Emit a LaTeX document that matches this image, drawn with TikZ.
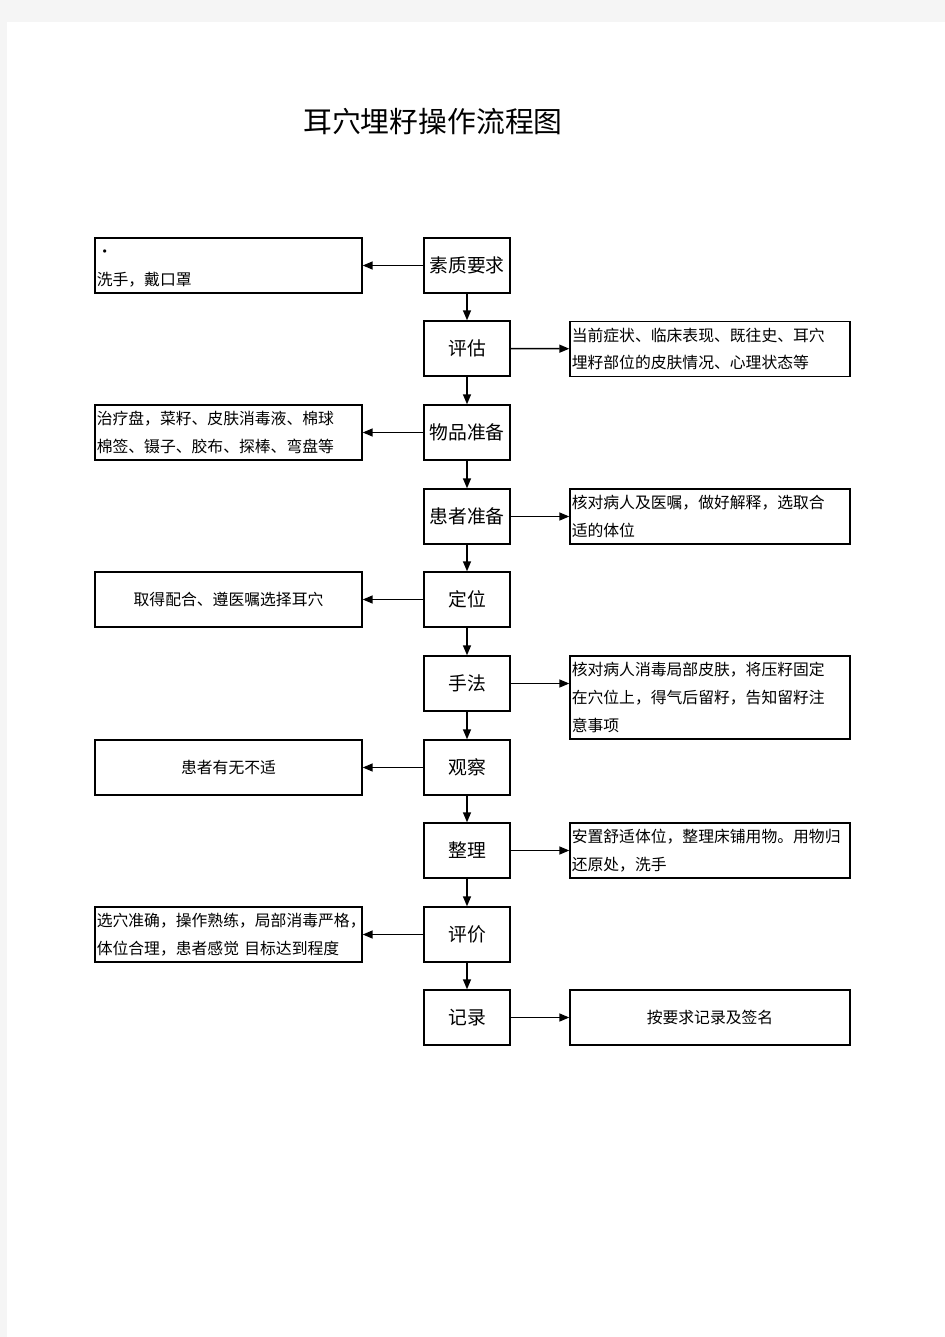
\documentclass[tikz,border=0pt]{standalone}
\usepackage{fontspec}
\newfontfamily\cjk{Noto Sans CJK SC}
\usetikzlibrary{arrows.meta}

\newcommand\notefont{\cjk\fontsize{9pt}{15.9pt}\selectfont}

\begin{document}
\begin{tikzpicture}%
[x=0.02cm,y=-0.02cm,%
stepbox/.style={draw, thick, minimum width=1.72cm, minimum height=1.1cm, inner sep=0pt, font=\cjk\fontsize{10.7pt}{12pt}\selectfont},%
leftnote/.style={draw, thick, text width=5.27cm, inner xsep=1pt, inner ysep=0pt, minimum height=1.1cm, align=left, font=\notefont},%
rightnote/.style={draw, thick, text width=5.53cm, inner xsep=1pt, inner ysep=0pt, minimum height=1.1cm, align=left, font=\notefont},%
link/.style={thick, -{Triangle[length=0.2cm,width=0.16cm]}}]

\useasboundingbox (0,0) rectangle (945,1337);
\fill[black!4] (0,0) rectangle (945,1337);
\fill[white] (7,22) rectangle (945,1337);

\node[font=\cjk\fontsize{16.4pt}{18pt}\selectfont] (title) at (433,122) {耳穴埋籽操作流程图};

% main steps
\node[stepbox] (s1) at (467,265.5) {素质要求};
\node[stepbox] (s2) at (467,348.5) {评估};
\node[stepbox] (s3) at (467,432.5) {物品准备};
\node[stepbox] (s4) at (467,516.5) {患者准备};
\node[stepbox] (s5) at (467,599.5) {定位};
\node[stepbox] (s6) at (467,683.5) {手法};
\node[stepbox] (s7) at (467,767.5) {观察};
\node[stepbox] (s8) at (467,850.5) {整理};
\node[stepbox] (s9) at (467,934.5) {评价};
\node[stepbox] (s10) at (467,1017.5) {记录};

% notes on the left
\node[leftnote] (l1) at (228.5,265.5) {\vphantom{洗}·\\洗手，戴口罩};
\node[leftnote] (l3) at (228.5,432.5) {治疗盘，菜籽、皮肤消毒液、棉球\\棉签、镊子、胶布、探棒、弯盘等};
\node[leftnote, align=center] (l5) at (228.5,599.5) {取得配合、遵医嘱选择耳穴};
\node[leftnote, align=center] (l7) at (228.5,767.5) {患者有无不适};
\node[leftnote] (l9) at (228.5,934.5) {选穴准确，操作熟练，局部消毒严格，\\体位合理，患者感觉\ 目标达到程度};

% notes on the right
\node[rightnote] (r2) at (710,349) {当前症状、临床表现、既往史、耳穴\\埋籽部位的皮肤情况、心理状态等};
\node[rightnote] (r4) at (710,516.5) {核对病人及医嘱，做好解释，选取合\\适的体位};
\node[rightnote, minimum height=1.66cm] (r6) at (710,697.5) {核对病人消毒局部皮肤，将压籽固定\\在穴位上，得气后留籽，告知留籽注\\意事项};
\node[rightnote] (r8) at (710,850.5) {安置舒适体位，整理床铺用物。用物归\\还原处，洗手};
\node[rightnote, align=center] (r10) at (710,1017.5) {按要求记录及签名};

\foreach \a/\b in {s1/s2,s2/s3,s3/s4,s4/s5,s5/s6,s6/s7,s7/s8,s8/s9,s9/s10}
  \draw[link] (\a) -- (\b);

\foreach \a/\b in {s1/l1,s3/l3,s5/l5,s7/l7,s9/l9,s2/r2,s4/r4,s8/r8,s10/r10}
  \draw[link] (\a) -- (\b);
\draw[link] (s6.east) -- (s6.east -| r6.west);
\end{tikzpicture}
\end{document}
